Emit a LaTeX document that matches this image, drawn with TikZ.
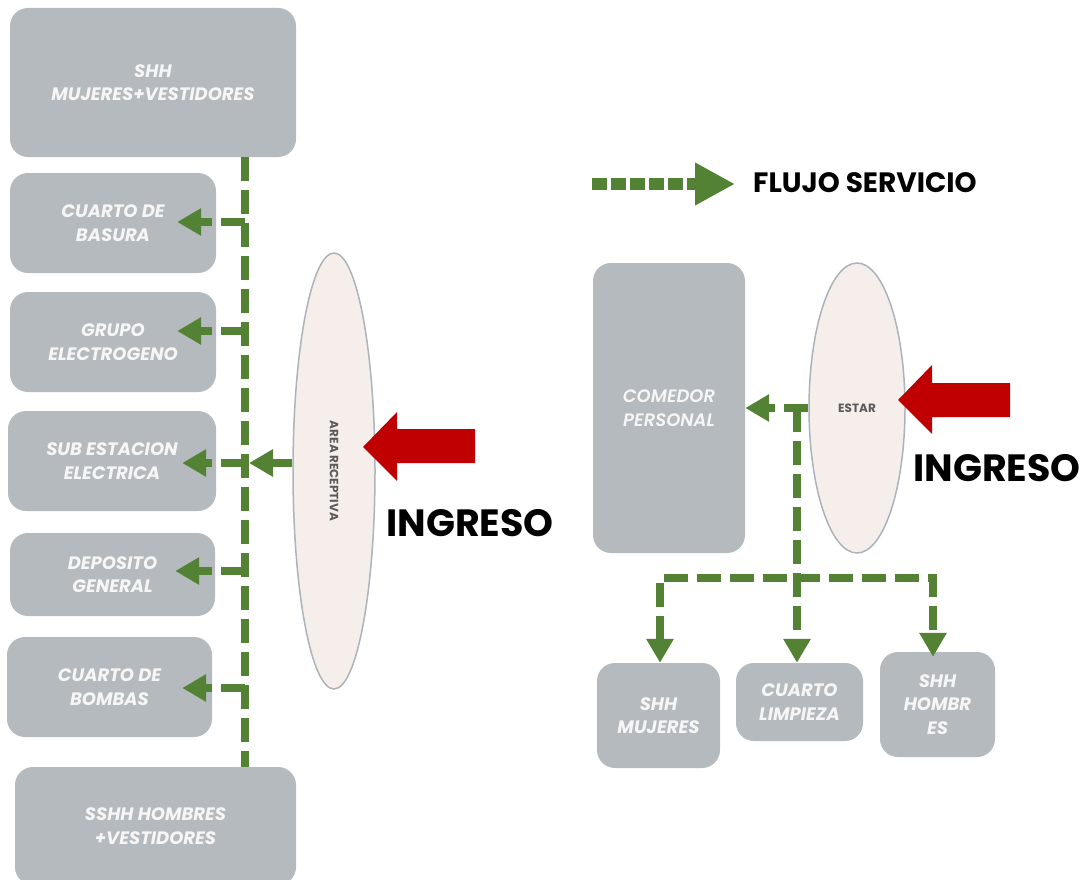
\documentclass[tikz,border=0pt]{standalone}
\usepackage{fontspec}
\setmainfont{Poppins}
\newfontfamily\medfont{Poppins SemiBold}[ItalicFont={Poppins SemiBold Italic}]
\usetikzlibrary{arrows.meta,shapes.geometric}
\definecolor{boxgray}{RGB}{180,186,189}
\definecolor{boxtext}{RGB}{246,246,246}
\definecolor{flowgreen}{RGB}{84,130,53}
\definecolor{ingred}{RGB}{192,0,0}
\definecolor{ellfill}{RGB}{245,238,235}
\definecolor{ellline}{RGB}{170,180,186}
\definecolor{elltext}{RGB}{90,90,90}
\newcommand\roomfont{\fontsize{18}{23.5}\selectfont\bfseries\itshape}
\tikzset{
  x=1pt, y=-1pt,
  room/.style={fill=boxgray, rounded corners=18pt, inner sep=0pt, text=boxtext,
    align=center, font=\roomfont},
  zone/.style={ellipse, fill=ellfill, draw=ellline, line width=1.5pt, inner sep=0pt},
  flow/.style={draw=flowgreen, line width=8.5pt, dash pattern=on 24pt off 9pt},
  tip/.style={-{Triangle[length=24pt,width=26pt]}},
  bigword/.style={font=\fontsize{38}{38}\selectfont\bfseries, text=black, inner sep=0pt},
  zonetext/.style={font=\fontsize{12}{12}\selectfont\bfseries, text=elltext, inner sep=0pt},
}
\begin{document}
\begin{tikzpicture}
\useasboundingbox (0,0) rectangle (1086,880);
% left column rooms
\node[room, minimum width=286pt, minimum height=149pt] (b1) at (153,82.5) {SHH\\MUJERES+VESTIDORES};
\node[room, minimum width=206pt, minimum height=100pt] (b2) at (113,223) {CUARTO DE\\BASURA};
\node[room, minimum width=206pt, minimum height=100pt] (b3) at (113,342) {GRUPO\\ELECTROGENO};
\node[room, minimum width=208pt, minimum height=100pt] (b4) at (112,461) {SUB ESTACION\\ELECTRICA};
\node[room, minimum width=205pt, minimum height=83pt] (b5) at (112.5,574.5) {DEPOSITO\\GENERAL};
\node[room, minimum width=205pt, minimum height=100pt] (b6) at (109.5,687) {CUARTO DE\\BOMBAS};
\node[room, minimum width=281pt, minimum height=118pt] (b7) at (155.5,826) {SSHH HOMBRES\\+VESTIDORES};
% reception
\node[zone, minimum width=82pt, minimum height=436pt] (e1) at (334,471) {};
\node[rotate=-90, zonetext] (e1t) at (e1.center) {AREA RECEPTIVA};
% spine
\coordinate (sp) at (245,0);
\draw[flow] (sp |- b1.south) -- (sp |- b7.north);
\draw[flow,tip] (sp |- 0,222) -- ([xshift=-39pt]b2.east |- 0,222);
\draw[flow,tip] (sp |- 0,331) -- ([xshift=-39pt]b3.east |- 0,331);
\draw[flow,tip] (e1.west |- 0,463) -- ([xshift=4pt]sp |- 0,463);
\draw[flow,tip] (sp |- 0,463) -- ([xshift=-34pt]b4.east |- 0,463);
\draw[flow,tip] (sp |- 0,571) -- ([xshift=-40pt]b5.east |- 0,571);
\draw[flow,tip] (sp |- 0,688) -- ([xshift=-30pt]b6.east |- 0,688);
% red arrow 1
\fill[ingred] (363,447) -- (397,412) -- (397,429) -- (475,429) -- (475,463) -- (397,463) -- (397,481) -- cycle;
\node[bigword] (ing1) at (470,523) {INGRESO};
% legend
\node[font=\fontsize{28}{28}\selectfont\bfseries, anchor=west, inner sep=0pt] (leg) at (753,183) {FLUJO SERVICIO};
\coordinate (lg0) at (592,184);
\draw[draw=flowgreen, line width=12pt, dash pattern=on 15pt off 4pt,
  -{Triangle[length=40pt,width=40pt]}] (lg0) -- ([xshift=-18pt]leg.west |- lg0);
% right side
\node[room, minimum width=152pt, minimum height=290pt, font=\fontsize{18}{23.5}\selectfont\medfont\itshape] (c) at (669,408) {COMEDOR\\PERSONAL};
\node[zone, minimum width=96pt, minimum height=290pt] (e2) at (857,408) {};
\node[zonetext] (e2t) at (e2.center) {ESTAR};
\fill[ingred] (898,400) -- (932,365) -- (932,383) -- (1010,383) -- (1010,417) -- (932,417) -- (932,434) -- cycle;
\node[bigword] (ing2) at (997,468) {INGRESO};
\node[room, minimum width=123pt, minimum height=105pt] (sm) at (658.5,715.5) {SHH\\MUJERES};
\node[room, minimum width=127pt, minimum height=78pt] (cl) at (799.5,702) {CUARTO\\LIMPIEZA};
\node[room, minimum width=115pt, minimum height=105pt] (sh) at (937.5,704.5) {SHH\\HOMBR\\ES};
\coordinate (vx) at (797,408);
\coordinate (hy) at (0,578);
\draw[flow,tip] (e2.west |- vx) -- (c.east |- vx);
\draw[flow,tip] (vx) -- (vx |- cl.north);
\draw[flow,{Triangle[length=24pt,width=26pt]}-{Triangle[length=24pt,width=26pt]}]
  ([xshift=1.5pt]sm.north) -- ([xshift=1.5pt]sm.north |- hy) -- ([xshift=-4.5pt]sh.north |- hy) -- ([xshift=-4.5pt,yshift=-5pt]sh.north);
\end{tikzpicture}
\end{document}
